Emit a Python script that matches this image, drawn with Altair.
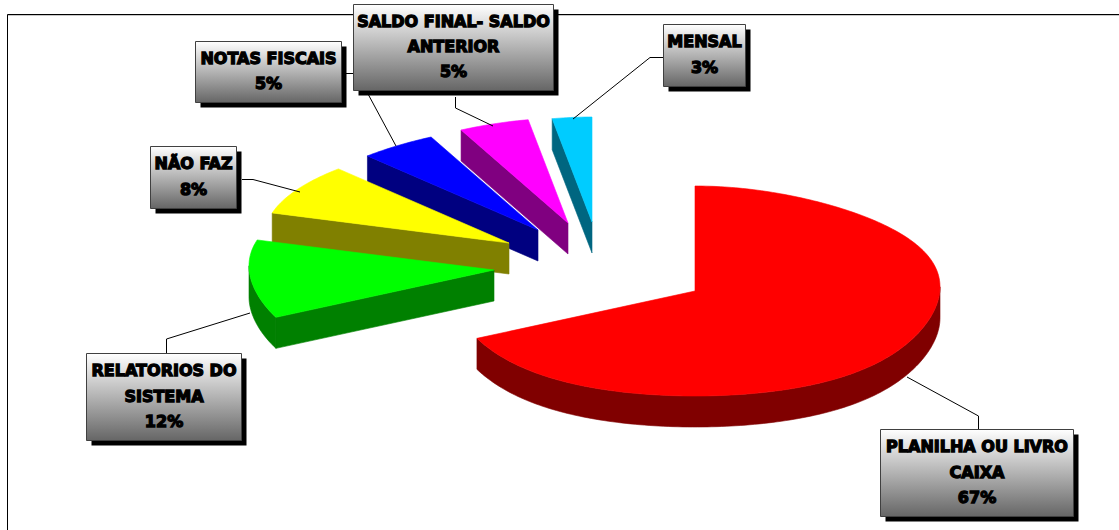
import math
import altair as alt
import pandas as pd

# Pie shares, in drawing order clockwise from twelve o'clock
labels = ["PLANILHA OU LIVRO|CAIXA", "RELATORIOS DO|SISTEMA", "NÃO FAZ",
          "NOTAS FISCAIS", "SALDO FINAL- SALDO|ANTERIOR", "MENSAL"]
values = [67, 12, 8, 5, 5, 3]
top_colors = ["#ff0000", "#00ff00", "#ffff00", "#0000ff", "#ff00ff", "#00ccff"]
side_colors = ["#800000", "#008000", "#808000", "#000080", "#800080", "#006680"]

# Layout of the tilted, exploded pie
W, H = 1119, 530
RX, RY, DEPTH = 245, 105, 31
PERSPECTIVE = 0.14   # the far side of the disc narrows, the near side widens
BULGE = 0.04         # the widest part of the disc sits slightly behind its centre
apex_x = [695, 494, 509, 538, 568, 592]
apex_y = [291, 270, 243, 230, 223, 222]

# Callout boxes: left, top, right, bottom
box_left = [880.5, 86.5, 150.5, 195.5, 353.5, 663.5]
box_top = [429.5, 353.5, 146.5, 41.5, 4.5, 24.5]
box_right = [1073.5, 241.5, 236.5, 341.5, 553.5, 745.5]
box_bottom = [516.5, 440.5, 208.5, 102.5, 90.5, 86.5]

# Leader lines from each slice to its callout
leader_x = [[907, 978.5, 978.5], [250, 166.5, 166.5], [300, 253, 242],
            [396, 357, 341], [493, 455.5, 455.5], [573, 650, 663]]
leader_y = [[377, 416, 429], [313, 339, 353], [192, 179.5, 179.5],
            [146, 73.5, 73.5], [126, 108, 97], [119, 57.5, 57.5]]

X = alt.X("x:Q", scale=alt.Scale(domain=[0, W], range=[0, W], nice=False, zero=False), axis=None)
Y = alt.Y("y:Q", scale=alt.Scale(domain=[0, H], range=[0, H], nice=False, zero=False), axis=None)
X2 = alt.X2("x2:Q")
Y2 = alt.Y2("y2:Q")


def rim_point(cx, cy, deg):
    a = math.radians(deg)
    s, c = math.sin(a), math.cos(a)
    return cx + RX * s * (1 - PERSPECTIVE * c ** 3), cy - RY * (c + BULGE * s * s)


def arc_points(cx, cy, a0, a1, dy=0):
    n = max(2, int(abs(a1 - a0)) + 1)
    out = []
    for i in range(n + 1):
        px, py = rim_point(cx, cy, a0 + (a1 - a0) * i / n)
        out.append((px, py + dy))
    return out


def polygon(points, fill):
    frame = pd.DataFrame({"x": [p[0] for p in points], "y": [p[1] for p in points],
                          "i": list(range(len(points)))})
    return alt.Chart(frame).mark_line(fill=fill, stroke=fill, strokeWidth=0.6, interpolate="linear").encode(
        x=X, y=Y, order="i:Q")


layers = []

# Frame along the top and left edges
frame_lines = pd.DataFrame({"x": [7.5, 7.5], "y": [14.5, 14.5], "x2": [W, 7.5], "y2": [14.5, H]})
layers.append(alt.Chart(pd.DataFrame({"x": [8], "y": [15.5], "x2": [W], "y2": [15.5]})).mark_rule(
    color="#c8c8c8", strokeWidth=1).encode(x=X, y=Y, x2=X2, y2=Y2))
layers.append(alt.Chart(frame_lines).mark_rule(color="#000000", strokeWidth=1).encode(x=X, y=Y, x2=X2, y2=Y2))

# Slice geometry, painted from the back of the pie to the front
total = sum(values)
angles = [0.0]
for v in values:
    angles.append(angles[-1] + 360.0 * v / total)

for k in [5, 4, 3, 2, 1, 0]:
    a0, a1 = angles[k], angles[k + 1]
    cx, cy = apex_x[k], apex_y[k]
    # the cut face looking towards the viewer
    if a0 > 180:
        sx, sy = rim_point(cx, cy, a0)
        layers.append(polygon([(cx, cy), (sx, sy), (sx, sy + DEPTH), (cx, cy + DEPTH), (cx, cy)], side_colors[k]))
    # the outer rim on the near half of the ellipse
    lo, hi = max(a0, 90), min(a1, 270)
    if hi > lo:
        upper = arc_points(cx, cy, lo, hi)
        lower = arc_points(cx, cy, hi, lo, DEPTH)
        layers.append(polygon(upper + lower + upper[:1], side_colors[k]))
    # the top surface
    top = [(cx, cy)] + arc_points(cx, cy, a0, a1) + [(cx, cy)]
    layers.append(polygon(top, top_colors[k]))

# Leaders run underneath the callouts
for lx, ly in zip(leader_x, leader_y):
    frame = pd.DataFrame({"x": lx, "y": ly, "i": list(range(len(lx)))})
    layers.append(alt.Chart(frame).mark_line(color="#000000", strokeWidth=1).encode(x=X, y=Y, order="i:Q"))

# Callouts: drop shadow, gradient box, text
gray_fade = alt.Gradient(gradient="linear", x1=0, y1=0, x2=0, y2=1,
                         stops=[alt.GradientStop(offset=0, color="#ffffff"),
                                alt.GradientStop(offset=1, color="#666666")])
boxes = pd.DataFrame({"x": box_left, "y": box_top, "x2": box_right, "y2": box_bottom})
shadows = boxes + 5
text_rows = []
for k, (label, value) in enumerate(zip(labels, values)):
    lines = label.split("|") + [f"{value}%"]
    middle = (box_top[k] + box_bottom[k]) / 2
    mid_x = (box_left[k] + box_right[k]) / 2
    for n, line in enumerate(lines):
        text_rows.append({"x": mid_x, "y": middle + (n - (len(lines) - 1) / 2) * 25.2 - 0.5, "t": line})
texts = pd.DataFrame(text_rows)

for k in [3, 4, 5, 2, 1, 0]:
    layers.append(alt.Chart(shadows.iloc[[k]]).mark_rect(color="#000000").encode(x=X, y=Y, x2=X2, y2=Y2))
    layers.append(alt.Chart(boxes.iloc[[k]]).mark_rect(fill=gray_fade, stroke="#404040", strokeWidth=1).encode(
        x=X, y=Y, x2=X2, y2=Y2))

layers.append(alt.Chart(texts).mark_text(
    font="DejaVu Sans", fontWeight="bold", fontSize=16, fill="#000000", stroke="#000000", strokeWidth=1.3,
    baseline="middle", align="center").encode(x=X, y=Y, text="t:N"))

chart = alt.layer(*layers).properties(
    width=W, height=H, padding=0, autosize=alt.AutoSizeParams(type="none"), background="#ffffff"
).configure_view(stroke=None)

chart.save("out.html", embed_options={"renderer": "svg", "actions": False})
